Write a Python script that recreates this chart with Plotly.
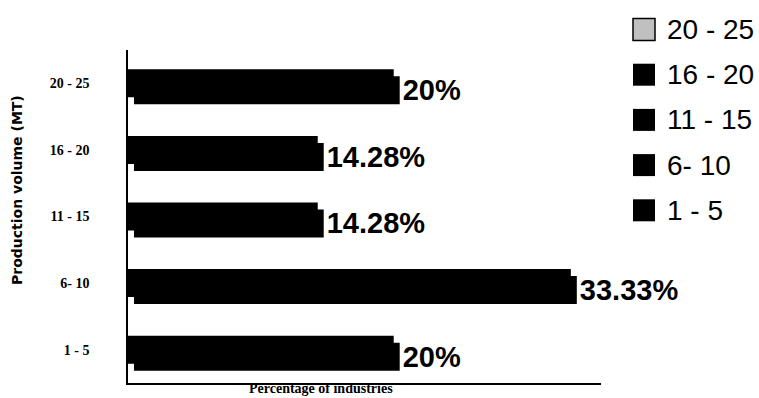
import plotly.graph_objects as go

# ---- data ----
categories = ["1 - 5", "6- 10", "11 - 15", "16 - 20", "20 - 25"]
percent_values = [20, 33.33, 14.28, 14.28, 20]
percent_labels = ["20%", "33.33%", "14.28%", "14.28%", "20%"]
legend_labels = ["20 - 25", "16 - 20", "11 - 15", "6- 10", "1 - 5"]
legend_colors = ["#c0c0c0", "#000000", "#000000", "#000000", "#000000"]

# ---- layout constants (pixels) ----
W, H = 759, 398
L, R, T, B = 128, 158, 50, 15
PW, PH = W - L - R, H - T - B
XMAX = 35.6
SHADOW_DX = 0.45     # in x units (~6px)
SHADOW_DY = 0.105    # in category units (~7px)
BAR_W = 0.42

def px_x(px):
    return (px - L) / PW

def px_y(py):
    return (H - B - py) / PH

fig = go.Figure()

# shadow bars (carry the labels)
fig.add_trace(go.Bar(
    y=categories, x=percent_values, base=SHADOW_DX, orientation="h",
    width=BAR_W, offset=-BAR_W / 2 - SHADOW_DY,
    marker=dict(color="#000000", line=dict(width=0)),
    text=percent_labels, textposition="outside", constraintext="none",
    textfont=dict(family="Liberation Sans, Arial", size=29, color="#000000",
                  weight="bold"),
    cliponaxis=False, showlegend=False, hoverinfo="skip",
))
# front bars
fig.add_trace(go.Bar(
    y=categories, x=percent_values, orientation="h",
    width=BAR_W, offset=-BAR_W / 2,
    marker=dict(color="#000000", line=dict(width=0)),
    showlegend=False,
))

# custom legend (large squares + text)
shapes = []
annotations = []
row0, step, half = 29.5, 45.2, 11
for i, (lab, col) in enumerate(zip(legend_labels, legend_colors)):
    cy = row0 + i * step
    shapes.append(dict(
        type="rect", xref="paper", yref="paper",
        x0=px_x(633), x1=px_x(655), y0=px_y(cy + half), y1=px_y(cy - half),
        fillcolor=col, line=dict(color="#000000", width=1.5 if i == 0 else 0),
    ))
    annotations.append(dict(
        xref="paper", yref="paper", x=px_x(665), y=px_y(cy),
        xanchor="left", yanchor="middle", text=lab, showarrow=False,
        font=dict(family="Liberation Sans, Arial", size=28, color="#000000"),
    ))

# axis titles
annotations.append(dict(
    xref="paper", yref="paper", x=px_x(17), y=px_y(190),
    xanchor="center", yanchor="middle", text="Production volume (MT)",
    textangle=-90, showarrow=False,
    font=dict(family="DejaVu Sans", size=14, color="#000000", weight="bold"),
))
annotations.append(dict(
    xref="paper", yref="paper", x=px_x(321), y=px_y(398),
    xanchor="center", yanchor="bottom", text="<b>Percentage of industries</b>",
    showarrow=False,
    font=dict(family="Liberation Serif, Times New Roman", size=14, color="#000000"),
))

fig.update_layout(
    width=W, height=H,
    margin=dict(l=L, r=R, t=T, b=B),
    paper_bgcolor="white", plot_bgcolor="white",
    barmode="overlay",
    showlegend=False,
    shapes=shapes, annotations=annotations,
    xaxis=dict(range=[0, XMAX], showgrid=False, zeroline=False,
               showticklabels=False, ticks="", showline=True,
               linecolor="#000000", linewidth=1.5, fixedrange=True),
    yaxis=dict(type="category", categoryorder="array", categoryarray=categories,
               range=[-0.5, 4.5], showgrid=False, zeroline=False, ticks="",
               showline=True, linecolor="#000000", linewidth=1.5,
               ticklabelstandoff=34,
               tickfont=dict(family="Liberation Serif, Times New Roman", size=14,
                             color="#000000", weight="bold"),
               fixedrange=True),
)

fig.write_html("out.html", post_script="document.body.style.margin='0';",
               config={"displayModeBar": False})
